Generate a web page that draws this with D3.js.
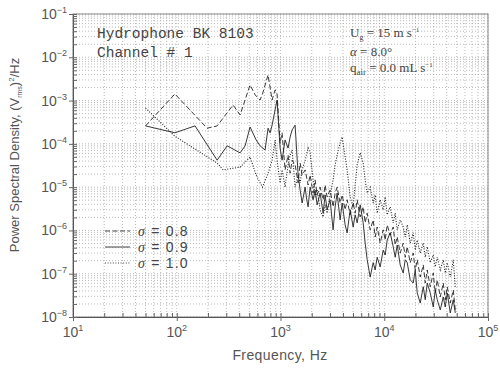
<!DOCTYPE html>
<html>
<head>
<meta charset="utf-8">
<script src="https://cdn.jsdelivr.net/npm/d3@7"></script>
<style>
  body { margin: 0; background: #fff; }
  svg { display: block; }
</style>
</head>
<body>
<div id="chart"></div>
<script>
// tick labels (base 10 with superscript exponent)
var xTickExp = ["1", "2", "3", "4", "5"];
var yTickExp = ["-1", "-2", "-3", "-4", "-5", "-6", "-7", "-8"];

// sigma = 0.8 (dashed)
var freq08 = [50, 96, 196, 245, 349, 408, 509, 570, 636, 670, 759, 830, 887, 927, 991, 1036, 1107, 1183, 1238, 1294, 1383, 1479, 1546, 1616, 1727, 1846, 1929, 2062, 2156, 2254, 2409, 2575, 2692, 2814, 3008, 3215, 3362, 3515, 3757, 3928, 4199, 4390, 4692, 5016, 5244, 5482, 5860, 6264, 6548, 6846, 7318, 7822, 8178, 8549, 9138, 9768, 10212, 10676, 11412, 12199, 12753, 13332, 14251, 15234, 15926, 16649, 17797, 19024, 19888, 20791, 22224, 23757, 24836, 25964, 27754, 29668, 31015, 32424, 34659, 37049, 38731, 40490, 43282, 46267, 48368];
var psd08 = [2.6e-4, 1.42e-3, 2.3e-4, 2.6e-4, 7.9e-4, 4.65e-4, 2.3e-3, 1.35e-3, 1.03e-3, 1.42e-3, 3.9e-3, 1.03e-3, 1.76e-3, 1.42e-3, 1.05e-4, 1.8e-4, 2.5e-5, 5.5e-5, 2.1e-5, 4.2e-5, 3.3e-5, 1.25e-5, 3.6e-5, 1.9e-5, 2.5e-5, 1.12e-5, 1.9e-5, 7.3e-6, 1.47e-5, 6.6e-6, 1.0e-5, 5.1e-6, 1.12e-5, 5.9e-6, 8.6e-6, 3.5e-6, 7.3e-6, 1.0e-5, 4.3e-6, 6.6e-6, 3.0e-6, 5.1e-6, 2.3e-6, 4.3e-6, 2.5e-6, 5.1e-6, 2.05e-6, 3.5e-6, 1.5e-6, 2.5e-6, 1.03e-6, 1.75e-6, 7.1e-7, 1.2e-6, 5.1e-7, 1.03e-6, 6.0e-7, 1.34e-6, 7.9e-7, 1.2e-6, 4.6e-7, 7.1e-7, 3.0e-7, 5.1e-7, 2.4e-7, 4.2e-7, 1.8e-7, 3.0e-7, 1.22e-7, 2.1e-7, 8.4e-8, 1.6e-7, 6.1e-8, 1.22e-7, 5.0e-8, 1.04e-7, 3.6e-8, 7.2e-8, 2.9e-8, 6.1e-8, 2.5e-8, 5.0e-8, 2.1e-8, 4.2e-8, 1.46e-8];

// sigma = 0.9 (solid)
var freq09 = [50, 96, 150, 245, 306, 408, 456, 509, 582, 636, 710, 759, 794, 830, 887, 927, 991, 1036, 1107, 1183, 1238, 1294, 1383, 1430, 1479, 1546, 1616, 1727, 1790, 1846, 1929, 2062, 2156, 2254, 2409, 2575, 2692, 2814, 3008, 3215, 3362, 3515, 3757, 3928, 4199, 4390, 4692, 5016, 5244, 5482, 5860, 6264, 6548, 6846, 7318, 7822, 8178, 8549, 9138, 9768, 10212, 10676, 11412, 12199, 12753, 13332, 14251, 15234, 15926, 16649, 17797, 19024, 19888, 20791, 22224, 23757, 24836, 25964, 27754, 29668, 31015, 32424, 34659, 37049, 38731, 40490, 43282, 46267, 48368];
var psd09 = [2.6e-4, 1.8e-4, 2.6e-4, 4.2e-5, 9.0e-5, 6.2e-5, 9.0e-5, 2.45e-4, 1.23e-4, 9.0e-5, 7.2e-5, 2.3e-4, 1.8e-4, 2.7e-4, 6.1e-4, 1.03e-3, 8.0e-5, 4.2e-5, 1.23e-4, 8.0e-5, 1.44e-4, 2.1e-4, 2.7e-4, 7.2e-5, 1.9e-5, 8.6e-6, 4.3e-6, 1.0e-5, 5.1e-6, 3.5e-6, 1.0e-5, 5.1e-6, 8.6e-6, 3.9e-6, 7.3e-6, 2.5e-6, 6.6e-6, 3.0e-6, 5.1e-6, 1.03e-6, 3.5e-6, 7.3e-6, 1.75e-6, 4.3e-6, 1.34e-6, 8.8e-7, 3.0e-6, 1.2e-6, 2.3e-6, 1.5e-6, 3.9e-6, 1.5e-6, 5.1e-7, 2.1e-7, 8.4e-8, 1.8e-7, 1.22e-7, 2.4e-7, 1.44e-7, 3.5e-7, 2.7e-7, 6.0e-7, 8.8e-7, 4.2e-7, 2.4e-7, 4.6e-7, 1.6e-7, 1.04e-7, 2.1e-7, 1.8e-7, 7.2e-8, 6.1e-8, 1.22e-7, 3.6e-8, 2.1e-8, 5.0e-8, 2.5e-8, 6.1e-8, 3.6e-8, 1.7e-8, 4.2e-8, 2.5e-8, 1.46e-8, 2.9e-8, 1.7e-8, 3.6e-8, 1.24e-8, 2.5e-8, 1.24e-8];

// sigma = 1.0 (dotted)
var freq10 = [50, 96, 245, 280, 408, 509, 582, 670, 759, 830, 887, 927, 991, 1036, 1107, 1183, 1238, 1294, 1383, 1479, 1546, 1616, 1727, 1846, 1929, 2062, 2156, 2254, 2409, 2575, 2692, 2814, 3008, 3215, 3362, 3515, 3757, 3928, 4199, 4390, 4692, 5016, 5244, 5482, 5860, 6264, 6548, 6846, 7318, 7822, 8178, 8549, 9138, 9768, 10212, 10676, 11412, 12199, 12753, 13332, 14251, 15234, 15926, 16649, 17797, 19024, 19888, 20791, 22224, 23757, 24836, 25964, 27754, 29668, 31015, 32424, 34659, 37049, 38731, 40490, 43282, 46267, 48368];
var psd10 = [6.7e-4, 1.5e-4, 3.6e-5, 2.5e-5, 2.9e-5, 5.0e-5, 1.9e-5, 1.0e-5, 2.1e-5, 4.2e-5, 1.23e-4, 4.2e-5, 1.25e-5, 2.5e-5, 1.0e-5, 3.3e-5, 5.5e-5, 7.2e-5, 1.0e-5, 1.9e-5, 1.25e-5, 2.5e-5, 4.2e-5, 8.0e-5, 6.2e-5, 1.47e-5, 5.9e-6, 8.6e-6, 3.0e-6, 2.05e-6, 3.9e-6, 2.5e-6, 6.6e-6, 1.47e-5, 3.3e-5, 5.5e-5, 1.05e-4, 1.44e-4, 5.0e-5, 2.5e-5, 5.9e-6, 3.5e-6, 1.12e-5, 3.3e-5, 6.2e-5, 3.6e-5, 1.47e-5, 7.3e-6, 1.0e-5, 4.3e-6, 6.6e-6, 2.5e-6, 5.1e-6, 3.0e-6, 5.9e-6, 2.3e-6, 3.5e-6, 1.5e-6, 2.5e-6, 1.03e-6, 1.75e-6, 1.2e-6, 7.1e-7, 1.34e-6, 5.1e-7, 8.8e-7, 3.5e-7, 6.0e-7, 3.0e-7, 5.1e-7, 2.4e-7, 4.2e-7, 1.8e-7, 2.7e-7, 1.44e-7, 2.4e-7, 1.22e-7, 2.1e-7, 1.04e-7, 1.8e-7, 8.4e-8, 2.1e-7, 5.0e-8];

var legendLabels = ["\u03c3 = 0.8", "\u03c3 = 0.9", "\u03c3 = 1.0"];

var margin = { top: 14, right: 12, bottom: 51, left: 73 },
    width = 500 - margin.left - margin.right,
    height = 368 - margin.top - margin.bottom;

var svg = d3.select("#chart")
  .append("svg")
  .attr("width", 500)
  .attr("height", 368);

var g = svg.append("g")
  .attr("transform", "translate(" + margin.left + "," + margin.top + ")");

var x = d3.scaleLog().domain([1e1, 1e5]).range([0, width]);
var y = d3.scaleLog().domain([1e-8, 1e-1]).range([height, 0]);

// minor + major grid values per decade
var xGrid = [], yGrid = [];
for (var e = 1; e < 5; e++) for (var k = 1; k < 10; k++) xGrid.push(k * Math.pow(10, e));
xGrid.push(1e5);
for (var e2 = -8; e2 < -1; e2++) for (var k2 = 1; k2 < 10; k2++) yGrid.push(k2 * Math.pow(10, e2));
yGrid.push(1e-1);

g.append("g").selectAll("line")
  .data(xGrid)
  .enter().append("line")
    .attr("x1", d => x(d)).attr("x2", d => x(d))
    .attr("y1", 0).attr("y2", height)
    .attr("stroke", "#aaa")
    .attr("stroke-width", 0.8)
    .attr("stroke-dasharray", "1,2");

g.append("g").selectAll("line")
  .data(yGrid)
  .enter().append("line")
    .attr("y1", d => y(d)).attr("y2", d => y(d))
    .attr("x1", 0).attr("x2", width)
    .attr("stroke", "#aaa")
    .attr("stroke-width", 0.8)
    .attr("stroke-dasharray", "1,2");

// frame
g.append("rect")
  .attr("width", width).attr("height", height)
  .attr("fill", "none")
  .attr("stroke", "#888")
  .attr("stroke-width", 1);

// axes
var xAxis = g.append("g")
  .attr("transform", "translate(0," + height + ")")
  .call(d3.axisBottom(x).tickValues(xGrid).tickSize(-4).tickFormat(""));
var yAxis = g.append("g")
  .call(d3.axisLeft(y).tickValues(yGrid).tickSize(-4).tickFormat(""));
[xAxis, yAxis].forEach(function(a) {
  a.select(".domain").attr("stroke", "#555");
  a.selectAll(".tick line").attr("stroke", "#666");
});
xAxis.selectAll(".tick line").filter(d => Math.log10(d) % 1 === 0).attr("y2", 4).attr("y1", -4);
yAxis.selectAll(".tick line").filter(d => Math.abs(Math.log10(d) % 1) < 1e-9).attr("x2", -4).attr("x1", 4);

// tick labels
var xMajor = g.append("g");
xTickExp.forEach(function(ex) {
  var t = xMajor.append("text")
    .attr("x", x(Math.pow(10, +ex)))
    .attr("y", height + 20)
    .attr("text-anchor", "middle")
    .style("font-family", "Liberation Sans, Arial, sans-serif")
    .style("font-size", "14px")
    .attr("fill", "#555");
  t.append("tspan").text("10");
  t.append("tspan").attr("dy", -6).style("font-size", "9px").text(ex);
});

var yMajor = g.append("g");
yTickExp.forEach(function(ex) {
  var t = yMajor.append("text")
    .attr("x", -6)
    .attr("y", y(Math.pow(10, +ex)) + 5)
    .attr("text-anchor", "end")
    .style("font-family", "Liberation Sans, Arial, sans-serif")
    .style("font-size", "14px")
    .attr("fill", "#555");
  t.append("tspan").text("10");
  t.append("tspan").attr("dy", -6).style("font-size", "9px").text(ex.replace("-", "\u2212"));
});

// axis titles
svg.append("text")
  .attr("x", 280).attr("y", 360)
  .attr("text-anchor", "middle")
  .style("font-family", "Liberation Sans, Arial, sans-serif")
  .style("font-size", "14px")
  .style("letter-spacing", "0.4px")
  .attr("fill", "#555")
  .text("Frequency, Hz");

var yt = svg.append("text")
  .attr("transform", "translate(19,155) rotate(-90)")
  .attr("text-anchor", "middle")
  .style("font-family", "Liberation Sans, Arial, sans-serif")
  .style("font-size", "13px")
  .attr("fill", "#555");
yt.append("tspan").text("Power Spectral Density, (V");
yt.append("tspan").attr("dy", 3).style("font-size", "7px").text("rms");
yt.append("tspan").attr("dy", -3).text(")");
yt.append("tspan").attr("dy", -5).style("font-size", "8px").text("2");
yt.append("tspan").attr("dy", 5).text("/Hz");

// series lines
var line = d3.line()
  .x(d => x(d[0]))
  .y(d => y(d[1]));

var series = [
  { f: freq10, v: psd10, dash: "1,1.6", w: 1.1 },
  { f: freq08, v: psd08, dash: "5,2.5", w: 0.9 },
  { f: freq09, v: psd09, dash: null, w: 0.9 }
];
series.forEach(function(s) {
  g.append("path")
    .datum(d3.zip(s.f, s.v))
    .attr("fill", "none")
    .attr("stroke", "#222")
    .attr("stroke-width", s.w)
    .attr("stroke-dasharray", s.dash)
    .attr("d", line);
});

// annotations
var mono = "Liberation Mono, Courier New, monospace";
svg.append("text").attr("x", 97).attr("y", 38)
  .style("font-family", mono).style("font-size", "14.5px").attr("fill", "#444")
  .text("Hydrophone BK 8103");
svg.append("text").attr("x", 97).attr("y", 57)
  .style("font-family", mono).style("font-size", "14.5px").attr("fill", "#444")
  .text("Channel # 1");

var serif = "Liberation Serif, Times New Roman, serif";
var r1 = svg.append("text").attr("x", 350).attr("y", 37)
  .style("font-family", serif).style("font-size", "13px").attr("fill", "#444");
r1.append("tspan").text("U");
r1.append("tspan").attr("dy", 3).style("font-size", "8px").text("g");
r1.append("tspan").attr("dy", -3).text(" = 15 m s");
r1.append("tspan").attr("dy", -5).style("font-size", "7px").text("\u22121");

var r2 = svg.append("text").attr("x", 350).attr("y", 56)
  .style("font-family", serif).style("font-size", "13px").attr("fill", "#444");
r2.append("tspan").style("font-style", "italic").text("\u03b1");
r2.append("tspan").text(" = 8.0\u00b0");

var r3 = svg.append("text").attr("x", 350).attr("y", 72)
  .style("font-family", serif).style("font-size", "13px").attr("fill", "#444");
r3.append("tspan").text("q");
r3.append("tspan").attr("dy", 3).style("font-size", "9px").text("air");
r3.append("tspan").attr("dy", -3).text(" = 0.0 mL s");
r3.append("tspan").attr("dy", -5).style("font-size", "7px").text("\u22121");

// legend
var legendDash = ["5,2.5", null, "1,1.6"];
var legend = svg.append("g");
legendLabels.forEach(function(lab, i) {
  var ly = 231 + i * 16;
  legend.append("line")
    .attr("x1", 105).attr("x2", 130)
    .attr("y1", ly).attr("y2", ly)
    .attr("stroke", "#444")
    .attr("stroke-width", 1)
    .attr("stroke-dasharray", legendDash[i]);
  var t = legend.append("text")
    .attr("x", 138).attr("y", ly + 5)
    .style("font-family", "Liberation Sans, Arial, sans-serif")
    .style("font-size", "14px")
    .style("letter-spacing", "1.2px")
    .attr("fill", "#444");
  t.append("tspan").style("font-style", "italic").style("font-family", serif).text("\u03c3");
  t.append("tspan").text(lab.slice(1));
});
</script>
</body>
</html>
